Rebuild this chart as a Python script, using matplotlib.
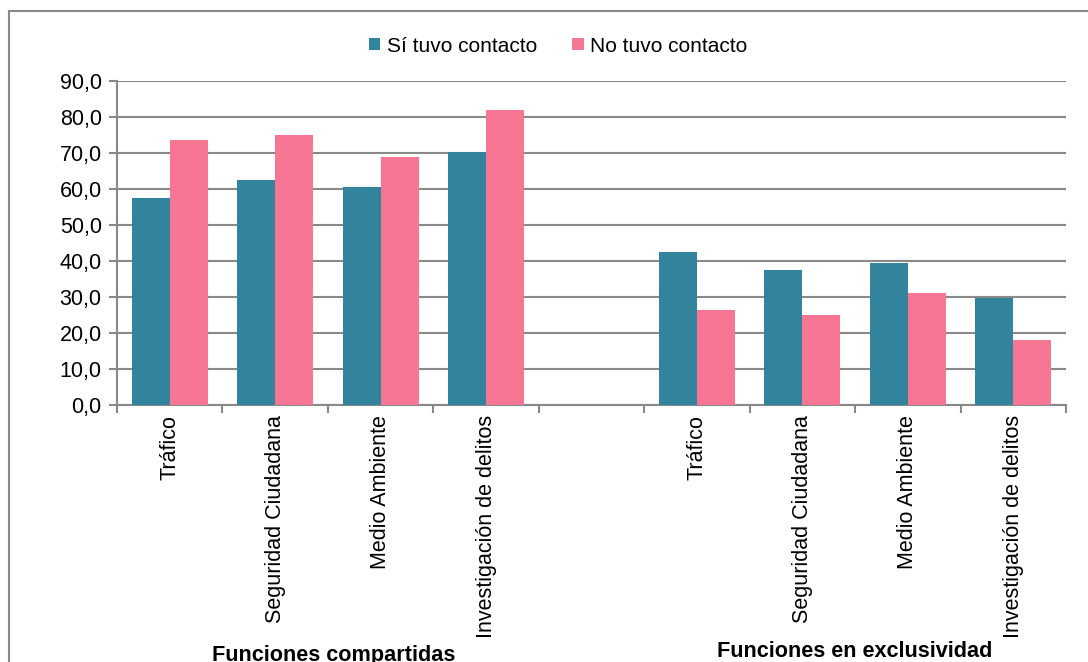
import matplotlib
matplotlib.use("Agg")
import matplotlib.pyplot as plt
from matplotlib.patches import Rectangle

plt.rcParams['font.family'] = ['Liberation Sans', 'DejaVu Sans']

categories = ["Tráfico", "Seguridad Ciudadana", "Medio Ambiente", "Investigación de delitos"]
groups = ["Funciones compartidas", "Funciones en exclusividad"]
series_names = ["Sí tuvo contacto", "No tuvo contacto"]
si_compartidas = [57.5, 62.6, 60.5, 70.3]
no_compartidas = [73.5, 75.1, 69.0, 81.9]
si_exclusividad = [42.4, 37.4, 39.4, 29.6]
no_exclusividad = [26.4, 24.9, 31.0, 18.1]
yticks = [0, 10, 20, 30, 40, 50, 60, 70, 80, 90]

teal = "#31849B"
pink = "#F67694"
grid = "#898989"

W, H = 1088, 662
fig = plt.figure(figsize=(W / 100, H / 100), dpi=100)
ax = fig.add_axes([117 / W, 1 - 405 / H, (1066 - 117) / W, (405 - 81) / H])

# positions: 4 shared, 1 empty slot, 4 exclusive
x_shared = list(range(len(categories)))
x_excl = [len(categories) + 1 + i for i in range(len(categories))]
xs = x_shared + x_excl
si_vals = si_compartidas + si_exclusividad
no_vals = no_compartidas + no_exclusividad

bw = 0.36
ax.bar([x - bw / 2 for x in xs], si_vals, width=bw, color=teal, label=series_names[0], zorder=3)
ax.bar([x + bw / 2 for x in xs], no_vals, width=bw, color=pink, label=series_names[1], zorder=3)

n_slots = len(categories) * 2 + 1
ax.set_xlim(-0.5, n_slots - 0.5)
ax.set_ylim(0, 90)
ax.set_yticks(yticks)
ax.set_yticklabels([f"{v:.1f}".replace(".", ",") for v in yticks], fontsize=15.5)
ax.yaxis.grid(True, color=grid, linewidth=1.5, zorder=0)
ax.set_axisbelow(True)

ax.set_xticks(xs)
ax.set_xticklabels(categories + categories, rotation=90, fontsize=15.5, va='top')
ax.tick_params(axis='x', which='major', length=0, pad=7)
ax.set_xticks([i - 0.5 for i in range(n_slots + 1)], minor=True)
ax.tick_params(axis='x', which='minor', length=6, width=1.5, color=grid)
ax.tick_params(axis='y', length=6, width=1.5, color=grid, pad=5)

for s in ['top', 'right']:
    ax.spines[s].set_visible(False)
for s in ['left', 'bottom']:
    ax.spines[s].set_color(grid)
    ax.spines[s].set_linewidth(1.5)

leg = fig.legend(loc='center', bbox_to_anchor=(558 / W, 1 - 46 / H), ncol=2, frameon=False,
                 fontsize=15, handlelength=0.55, handleheight=0.55, handletextpad=0.3,
                 columnspacing=1.7)

fig.text(334 / W, 1 - 661 / H, groups[0], ha='center', va='baseline', fontsize=15.6, fontweight='bold')
fig.text(855 / W, 1 - 657 / H, groups[1], ha='center', va='baseline', fontsize=15.6, fontweight='bold')

fig.patches.append(Rectangle((8.5 / W, -0.1), 1.2, 1 - 10.5 / H + 0.1, transform=fig.transFigure,
                             fill=False, edgecolor=grid, linewidth=1.5))

fig.savefig("out.png", dpi=100)
